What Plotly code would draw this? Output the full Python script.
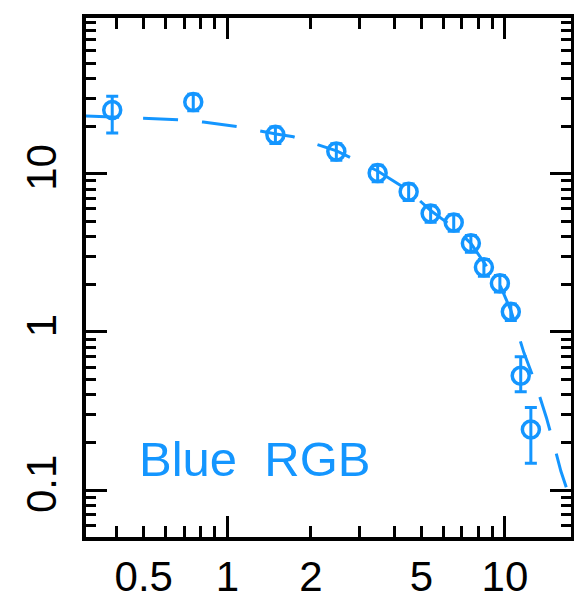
import plotly.graph_objects as go

# Measured surface-density profile (radius, value, asymmetric errors)
radius = [0.385, 0.754, 1.49, 2.47, 3.48, 4.50, 5.40, 6.54, 7.54, 8.40, 9.59, 10.5, 11.4, 12.4]
density = [25.3, 28.4, 17.6, 13.8, 10.1, 7.70, 5.60, 4.92, 3.63, 2.56, 2.03, 1.34, 0.529, 0.242]
err_plus = [5.6, 3.4, 2.1, 1.65, 1.2, 0.92, 0.67, 0.59, 0.44, 0.31, 0.24, 0.16, 0.167, 0.091]
err_minus = [7.2, 3.4, 2.1, 1.65, 1.2, 0.92, 0.67, 0.59, 0.44, 0.31, 0.24, 0.16, 0.110, 0.094]

# Model profile
model_r = [0.305, 0.385, 0.497, 0.677, 0.819, 1.096, 1.50, 1.73, 2.475, 3.48, 4.50, 5.40,
           6.54, 7.54, 8.39, 9.59, 10.5, 11.7, 12.9, 14.1, 15.0, 15.9, 17.3, 18.2]
model_d = [23.2, 22.8, 22.5, 21.9, 21.2, 19.8, 17.8, 17.1, 13.95, 10.4, 7.82, 5.85,
           4.57, 3.63, 2.76, 1.98, 1.375, 0.74, 0.47, 0.288, 0.195, 0.132, 0.085, 0.057]

# Axis ticks
x_major = [1, 10]
x_minor = [0.4, 0.5, 0.6, 0.7, 0.8, 0.9, 2, 3, 4, 5, 6, 7, 8, 9, 20]
x_labels = [0.5, 1, 2, 5, 10]
y_major = [0.1, 1, 10]
y_minor = [0.06, 0.07, 0.08, 0.09, 0.2, 0.3, 0.4, 0.5, 0.6, 0.7, 0.8, 0.9,
           2, 3, 4, 5, 6, 7, 8, 9, 20, 30, 40, 50, 60, 70, 80, 90]

BLUE = "#1496ff"
FONT = "Liberation Sans, Arial, sans-serif"
TICK_FONT = dict(family=FONT, size=42, color="black")

fig = go.Figure()

fig.add_trace(go.Scatter(
    x=model_r, y=model_d, mode="lines",
    line=dict(color=BLUE, width=3, dash="35px,24px"),
    showlegend=False, hoverinfo="skip",
))

fig.add_trace(go.Scatter(
    x=radius, y=density, mode="markers",
    marker=dict(symbol="circle-open", size=17, color=BLUE, line=dict(width=3.5, color=BLUE)),
    error_y=dict(type="data", symmetric=False, array=err_plus, arrayminus=err_minus,
                 color=BLUE, thickness=3, width=6),
    showlegend=False,
))

# Invisible trace on the label-only x axis so it gets drawn
fig.add_trace(go.Scatter(x=[1], y=[1], xaxis="x2", mode="markers",
                         marker=dict(opacity=0), showlegend=False, hoverinfo="skip"))

xr = [-0.509, 1.238]
yr = [-1.296, 1.984]

axis_common = dict(
    type="log", showline=True, linecolor="black", linewidth=4, mirror="ticks",
    ticks="inside", tickcolor="black", tickwidth=3, ticklen=21,
    showgrid=False, zeroline=False, automargin=False,
    tickfont=TICK_FONT,
)

fig.update_layout(
    width=574, height=599,
    margin=dict(l=86, r=3, t=18, b=62),
    plot_bgcolor="white", paper_bgcolor="white",
    xaxis=dict(
        **axis_common, range=xr,
        tickmode="array", tickvals=x_major, showticklabels=False,
        minor=dict(tickmode="array", tickvals=x_minor, ticks="inside",
                   ticklen=11, tickwidth=3, tickcolor="black", showgrid=False),
    ),
    xaxis2=dict(
        type="log", range=xr, overlaying="x", side="bottom", showline=False,
        showgrid=False, zeroline=False, ticks="", automargin=False,
        tickmode="array", tickvals=x_labels, ticktext=["0.5", "1", "2", "5", "10"],
        ticklabelstandoff=11,
        tickfont=TICK_FONT,
    ),
    yaxis=dict(
        **axis_common, range=yr,
        tickmode="array", tickvals=y_major, ticktext=["0.1", "1", "10"],
        tickangle=-90, ticklabelstandoff=9,
        minor=dict(tickmode="array", tickvals=y_minor, ticks="inside",
                   ticklen=10, tickwidth=3, tickcolor="black", showgrid=False),
    ),
    annotations=[dict(
        text="Blue\u00a0\u00a0RGB", xref="paper", yref="paper",
        x=0.105, y=0.150, xanchor="left", yanchor="middle", showarrow=False,
        font=dict(family=FONT, size=49, color=BLUE),
    )],
)

fig.write_html("out.html")
